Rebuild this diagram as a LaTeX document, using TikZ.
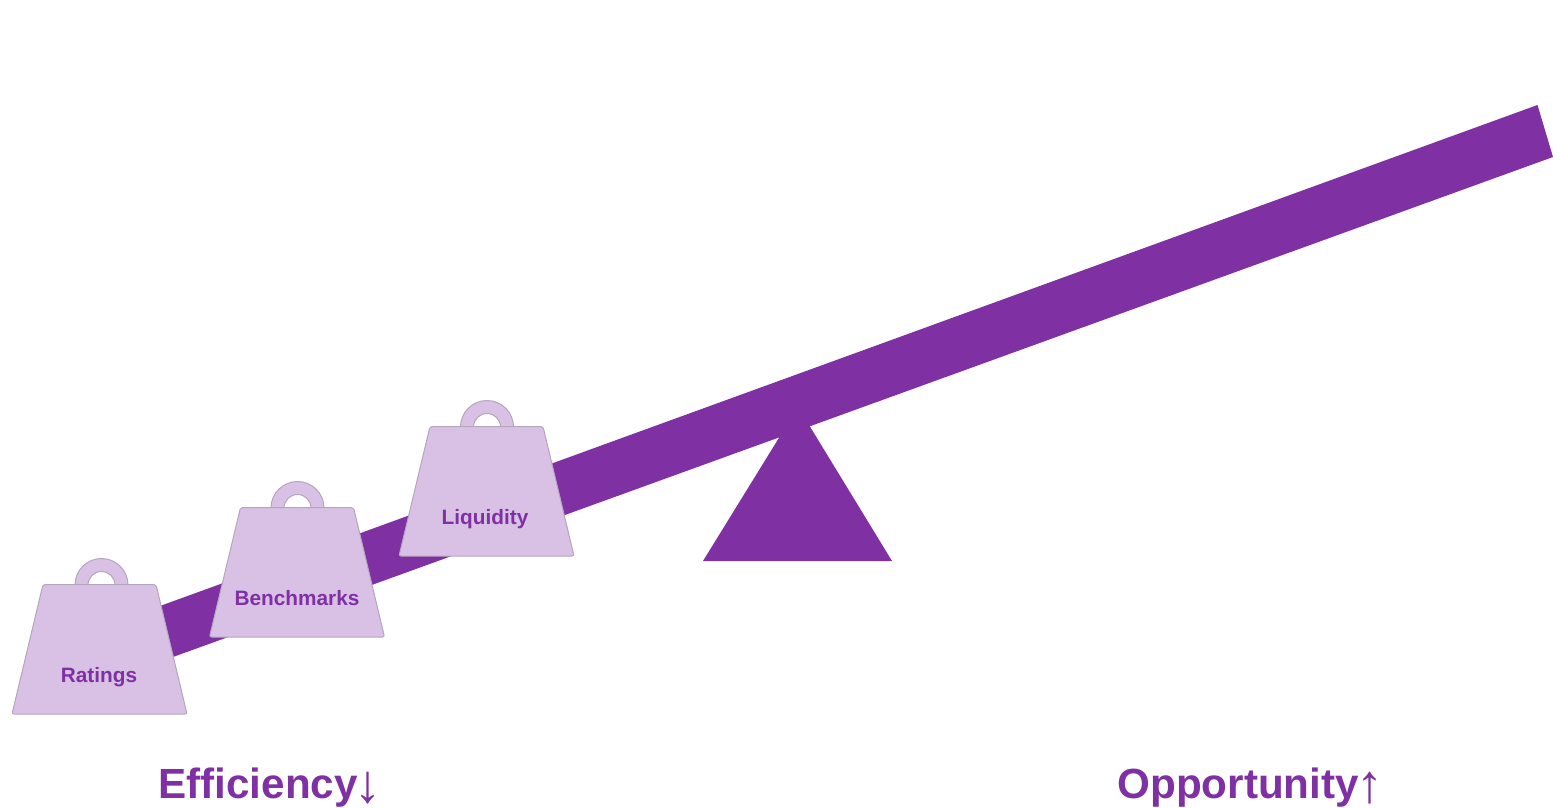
\documentclass[tikz,border=0pt]{standalone}
\usepackage{fontspec}
\setmainfont{Liberation Sans}
\definecolor{beampurple}{HTML}{7F30A3}
\definecolor{weightfill}{HTML}{D9C1E6}
\definecolor{weightline}{HTML}{B4A6BC}
\newcommand{\bigarrow}[2]{\kern#1\raisebox{-2.3pt}[0pt][0pt]{\fontsize{27}{30}\mdseries\selectfont #2}}
\tikzset{
  solidpurple/.style={fill=beampurple,draw=none},
  weightshape/.style={fill=weightfill,draw=weightline,line width=0.5pt},
  weightlabel/.style={text=beampurple,font=\bfseries\fontsize{10.4}{12}\selectfont,inner sep=0pt,anchor=base},
  biglabel/.style={text=beampurple,font=\bfseries\fontsize{21.1}{26}\selectfont,inner sep=0pt,anchor=base west},
  pics/weight/.style={code={
    \path[weightshape] (#1-26.5,585) arc[start angle=180,end angle=360,radius=26.5] -- (#1+13.5,585) arc[start angle=360,end angle=180,radius=13.5] -- cycle;
    \path[weightshape,rounded corners=1pt] (43,584.5) -- (156,584.5) -- (187,714) -- (12,714) -- cycle;
  }}
}
\begin{document}
\begin{tikzpicture}[x=0.5pt,y=-0.5pt]
\useasboundingbox (0,0) rectangle (1553,808);
\path[solidpurple] (1537.5,105) -- (1553,157) -- (173,657) -- (160,606) -- cycle;
\path[solidpurple] (798,407) -- (892,561) -- (703,561) -- cycle;
\pic at (0,0) {weight=101.5};
\pic at (197.5,-77) {weight=100};
\pic at (387,-158) {weight=100};
\node[weightlabel] (ratings) at (99,682) {Ratings};
\node[weightlabel] (benchmarks) at (297,605) {Benchmarks};
\node[weightlabel] (liquidity) at (485,524) {Liquidity};
\node[biglabel] (efficiency) at (158,798) {Efficiency\bigarrow{-1.4pt}{↓}};
\node[biglabel] (opportunity) at (1117,798) {Opportunity\bigarrow{-1pt}{↑}};
\end{tikzpicture}
\end{document}
